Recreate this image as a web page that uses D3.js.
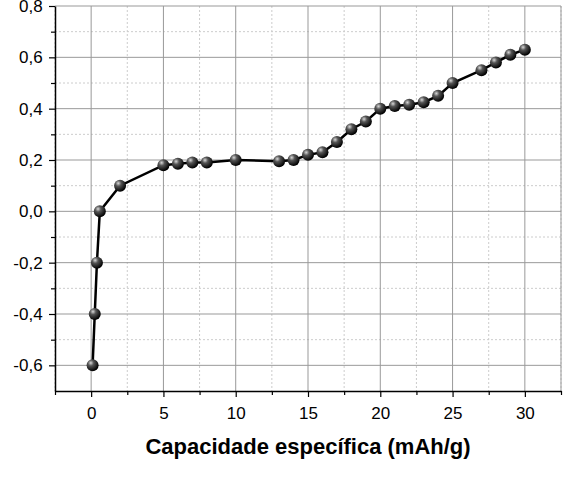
<!DOCTYPE html>
<html lang="en">
<head>
<meta charset="utf-8">
<script src="https://d3js.org/d3.v7.min.js"></script>
<style>
body { margin: 0; background: #fff; }
text { font-family: "Liberation Sans", Arial, sans-serif; }
</style>
</head>
<body>
<svg id="chart" width="585" height="485"></svg>
<script>
// capacity (mAh/g) and potential readings
var capacity = [0.1, 0.25, 0.4, 0.6, 2, 5, 6, 7, 8, 10, 13, 14, 15, 16, 17, 18, 19, 20, 21, 22, 23, 24, 25, 27, 28, 29, 30];
var potential = [-0.6, -0.4, -0.2, 0.0, 0.1, 0.18, 0.185, 0.19, 0.19, 0.2, 0.195, 0.2, 0.22, 0.23, 0.27, 0.32, 0.35, 0.4, 0.41, 0.415, 0.425, 0.45, 0.5, 0.55, 0.58, 0.61, 0.63];
var xTicks = [0, 5, 10, 15, 20, 25, 30];
var yTicks = [-0.6, -0.4, -0.2, 0.0, 0.2, 0.4, 0.6, 0.8];

var svg = d3.select("#chart");
var mLeft = 55, mRight = 561, mTop = 6, mBottom = 391;

var x = d3.scaleLinear().domain([-2.5, 32.5]).range([mLeft, mRight]);
var y = d3.scaleLinear().domain([-0.7, 0.8]).range([mBottom, mTop]);

var fmt = function(d) { return d3.format(".1f")(d).replace(".", ",").replace("-0,0", "0,0").replace("−", "-"); };
var isMajorY = function(d) { return yTicks.some(function(t) { return Math.abs(t - d) < 1e-6; }); };

var grad = svg.append("defs").append("radialGradient")
  .attr("id", "ball").attr("cx", "35%").attr("cy", "30%").attr("r", "70%");
grad.append("stop").attr("offset", "0%").attr("stop-color", "#d8d8d8");
grad.append("stop").attr("offset", "35%").attr("stop-color", "#555");
grad.append("stop").attr("offset", "100%").attr("stop-color", "#000");

var g = svg.append("g");
// minor grid (dotted)
var xMinor = d3.range(-2.5, 32.6, 2.5).filter(function(d) { return d % 5 !== 0; });
var yMinor = [-0.5, -0.3, -0.1, 0.1, 0.3, 0.5, 0.7];
g.selectAll(".xm").data(xMinor).join("line")
  .attr("x1", x).attr("x2", x).attr("y1", mTop).attr("y2", mBottom)
  .attr("stroke", "#ccc").attr("stroke-dasharray", "2,2");
g.selectAll(".ym").data(yMinor).join("line")
  .attr("y1", y).attr("y2", y).attr("x1", mLeft).attr("x2", mRight)
  .attr("stroke", "#ccc").attr("stroke-dasharray", "2,2");
// major grid
g.selectAll(".xg").data(xTicks).join("line")
  .attr("x1", x).attr("x2", x).attr("y1", mTop).attr("y2", mBottom)
  .attr("stroke", "#999");
g.selectAll(".yg").data(yTicks).join("line")
  .attr("y1", y).attr("y2", y).attr("x1", mLeft).attr("x2", mRight)
  .attr("stroke", "#999");
g.append("line").attr("x1", mRight).attr("x2", mRight).attr("y1", mTop).attr("y2", mBottom).attr("stroke", "#999");

// axes
var xAxis = svg.append("g").attr("transform", "translate(0," + mBottom + ")")
  .call(d3.axisBottom(x).tickValues(d3.range(-2.5, 32.6, 2.5)).tickSize(6).tickSizeOuter(0)
    .tickFormat(function(d) { return xTicks.indexOf(d) >= 0 ? d : ""; }));
var yAxis = svg.append("g").attr("transform", "translate(" + mLeft + ",0)")
  .call(d3.axisLeft(y).tickValues(yMinor.concat(yTicks)).tickSize(6).tickSizeOuter(0)
    .tickFormat(function(d) { return isMajorY(d) ? fmt(d) : ""; }));
[xAxis, yAxis].forEach(function(a) {
  a.select(".domain").attr("stroke", "#000").attr("stroke-width", 1.5);
  a.selectAll(".tick line").attr("stroke", "#000").attr("stroke-width", 1.2);
  a.selectAll("text").attr("font-size", 17).attr("fill", "#000")
    .style("font-family", "'Liberation Sans', Arial, sans-serif");
});
yAxis.selectAll(".tick").filter(function(d) { return !isMajorY(d); })
  .select("line").attr("x2", -4);
xAxis.selectAll(".tick").filter(function(d) { return xTicks.indexOf(d) < 0; })
  .select("line").attr("y2", 4);
xAxis.selectAll("text").attr("dy", "1.1em");
yAxis.selectAll("text").attr("dx", "-0.2em");

svg.append("text").attr("x", 308).attr("y", 454)
  .attr("text-anchor", "middle").attr("font-size", 22).attr("font-weight", "bold")
  .text("Capacidade específica (mAh/g)");

var pts = capacity.map(function(c, i) { return [c, potential[i]]; });
svg.append("path").datum(pts)
  .attr("fill", "none").attr("stroke", "#000").attr("stroke-width", 2.5)
  .attr("d", d3.line().x(function(d) { return x(d[0]); }).y(function(d) { return y(d[1]); }));
svg.selectAll(".pt").data(pts).join("circle")
  .attr("cx", function(d) { return x(d[0]); }).attr("cy", function(d) { return y(d[1]); })
  .attr("r", 6).attr("fill", "url(#ball)");
</script>
</body>
</html>
